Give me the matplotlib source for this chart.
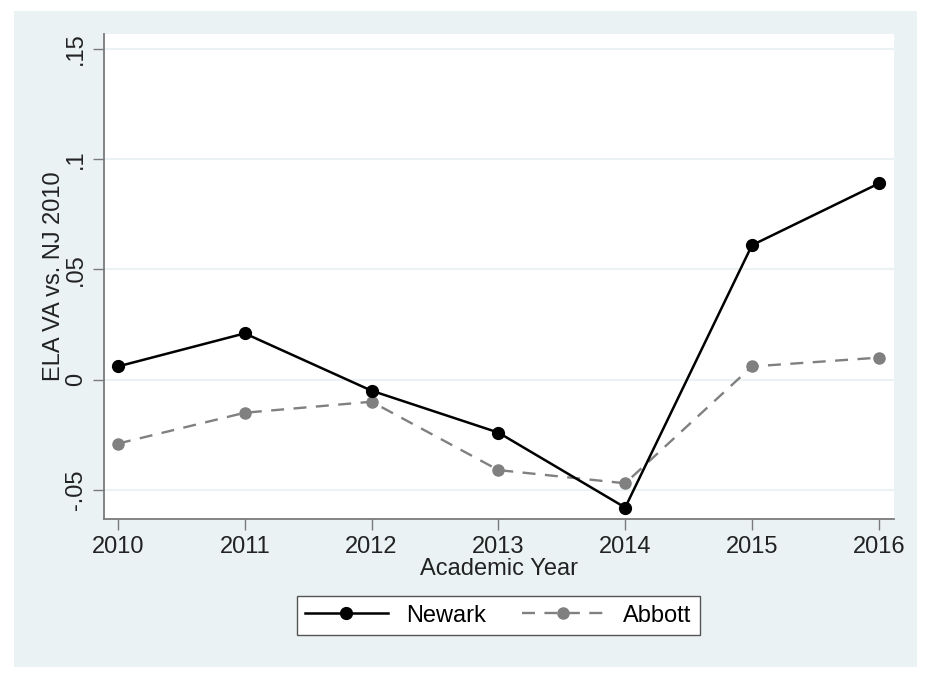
import matplotlib
matplotlib.use('Agg')
from matplotlib import pyplot as plt
from matplotlib.patches import Rectangle

years = [2010, 2011, 2012, 2013, 2014, 2015, 2016]
newark = [0.006, 0.021, -0.005, -0.024, -0.058, 0.061, 0.089]
abbott = [-0.029, -0.015, -0.010, -0.041, -0.047, 0.006, 0.010]
yticks = [-0.05, 0, 0.05, 0.1, 0.15]
ytick_labels = ['-.05', '0', '.05', '.1', '.15']

PANEL = '#eaf2f3'
GRID = '#eaf2f3'
AXIS = '#7a7a7a'
TXT = '#222222'

plt.rcParams['font.family'] = ['Liberation Sans', 'DejaVu Sans']
plt.rcParams['font.size'] = 17

fig = plt.figure(figsize=(9.44, 6.84), dpi=100)

# Stata-style outer panel, behind the axes
fig.patches.append(Rectangle((14 / 944, 17 / 684), 903 / 944, 656 / 684,
                             transform=fig.transFigure, facecolor=PANEL,
                             edgecolor='none', zorder=-1))

ax = fig.add_axes([104 / 944, 165 / 684, 790 / 944, 485 / 684])
ax.set_zorder(1)
ax.set_facecolor('white')

ax.plot(years, newark, '-', color='black', lw=1.8, marker='o', ms=8.5,
        label='Newark', zorder=3)
ax.plot(years, abbott, '--', color='#808080', lw=1.7, marker='o', ms=8,
        dashes=(5.5, 4), label='Abbott', zorder=2)

ax.set_xlim(2009.89, 2016.12)
ax.set_ylim(-0.0632, 0.1568)
ax.set_xticks(years)
ax.set_yticks(yticks)
ax.set_yticklabels(ytick_labels, rotation=90, va='center')
ax.grid(axis='y', color=GRID, lw=1.5, zorder=0)
ax.set_axisbelow(True)

for side in ['top', 'right']:
    ax.spines[side].set_visible(False)
for side in ['left', 'bottom']:
    ax.spines[side].set_color(AXIS)
    ax.spines[side].set_linewidth(1.3)
ax.tick_params(colors=AXIS, labelcolor=TXT, length=8, width=1.0, pad=4)

ax.set_xlabel('Academic Year', color=TXT, labelpad=0.5)
ax.set_ylabel('ELA VA vs. NJ 2010', color=TXT, labelpad=0)

leg = fig.legend(loc='center', bbox_to_anchor=(0.528, 0.100), ncol=2,
                 fancybox=False, edgecolor='#555555', handlelength=3.5,
                 columnspacing=1.5, borderpad=0.35, framealpha=1)
leg.get_frame().set_linewidth(1.0)

fig.savefig('out.png', dpi=100)
